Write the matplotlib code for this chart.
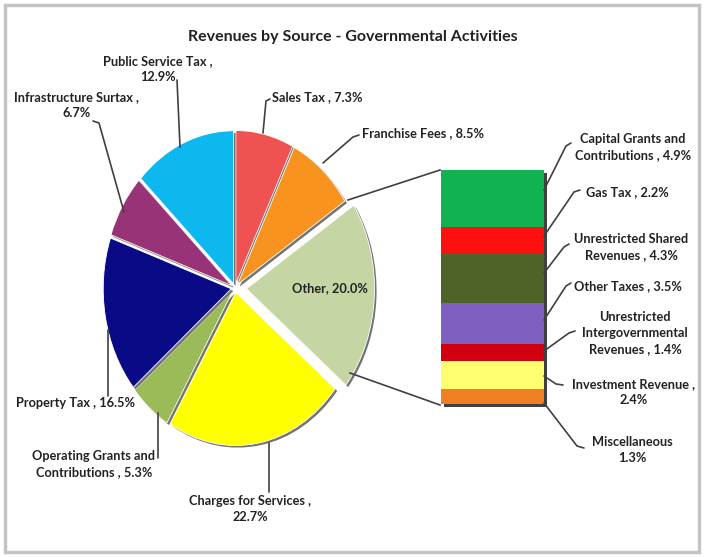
import numpy as np
import matplotlib.pyplot as plt
from matplotlib.patches import Rectangle
import matplotlib.patheffects as pe
import matplotlib.transforms as mtrans

# pie data (clockwise from 12 o'clock)
pie_names = ["Sales Tax", "Franchise Fees", "Other", "Charges for Services",
             "Operating Grants and Contributions", "Property Tax",
             "Infrastructure Surtax", "Public Service Tax"]
pie_values = [7.3, 8.5, 20.0, 22.7, 5.3, 16.5, 6.7, 12.9]
pie_colors = ["#F05252", "#F7931E", "#C5D6A4", "#FFFF00",
              "#9BBB59", "#0A0A86", "#993377", "#0DB8EE"]

# breakdown of "Other" (top to bottom of the bar)
bar_names = ["Capital Grants and Contributions", "Gas Tax",
             "Unrestricted Shared Revenues", "Other Taxes",
             "Unrestricted Intergovernmental Revenues", "Investment Revenue",
             "Miscellaneous"]
bar_values = [4.9, 2.2, 4.3, 3.5, 1.4, 2.4, 1.3]
bar_colors = ["#10B252", "#FF1010", "#4F6228", "#7F5FC0",
              "#D00010", "#FFFF70", "#EE7F22"]

W, H = 704, 557
FONT = ["Lato", "DejaVu Sans"]
TXT = "#222222"

fig = plt.figure(figsize=(W / 100, H / 100), dpi=100)
fig.patch.set_facecolor("white")

# pie, drawn a little squashed sideways like the source screenshot
cx, cy, rx, ry, L = 235, 288, 128, 153, 1.6
axp = fig.add_axes([(cx - L * rx) / W, (H - cy - L * ry) / H,
                    2 * L * rx / W, 2 * L * ry / H])
explode = [0.03] * len(pie_values)
explode[pie_names.index("Other")] = 0.09
wedges, _ = axp.pie(pie_values, colors=pie_colors, startangle=90,
                    counterclock=False, explode=explode,
                    wedgeprops=dict(linewidth=0.6, edgecolor="#ffffff"))
for w in wedges:
    w.set_path_effects([pe.SimplePatchShadow(offset=(1.5, -1.5), shadow_rgbFace="black", alpha=0.55),
                        pe.Normal()])
axp.set_aspect("auto")
axp.set_xlim(-L, L)
axp.set_ylim(-L, L)
axp.axis("off")

# stacked bar for the "Other" slice
axb = fig.add_axes([441 / W, (H - 404) / H, 103 / W, 234 / H])
total = sum(bar_values)
shadow = axb.bar(0, total, width=1.0, color="black", alpha=0.75, zorder=0)
shift = mtrans.ScaledTranslation(2.5 / 72, -2 / 72, fig.dpi_scale_trans)
for p in shadow:
    p.set_transform(axb.transData + shift)
    p.set_clip_on(False)
bottom = 0
for v, c in zip(bar_values[::-1], bar_colors[::-1]):
    axb.bar(0, v, bottom=bottom, width=1.0, color=c, edgecolor="none", zorder=2)
    bottom += v
axb.set_xlim(-0.5, 0.5)
axb.set_ylim(0, total)
axb.axis("off")

# overlay in pixel coords for labels and leader lines
ax = fig.add_axes([0, 0, 1, 1], zorder=5)
ax.set_xlim(0, W)
ax.set_ylim(H, 0)
ax.axis("off")

def label(text, x, y, pts, ha="center", size=9.2):
    ax.text(x, y, text, ha=ha, va="center", fontsize=size, fontweight="bold",
            color=TXT, family=FONT, linespacing=1.4)
    if pts:
        xs, ys = zip(*pts)
        ax.plot(xs, ys, color="#404040", lw=1.2, solid_capstyle="round")

def pct(v):
    return "%.1f%%" % v

v = dict(zip(pie_names, pie_values))
b = dict(zip(bar_names, bar_values))

ax.text(353, 37, "Revenues by Source - Governmental Activities", ha="center", va="center",
        fontsize=11.5, fontweight="bold", color=TXT, family=FONT)

label("Public Service Tax ,\n" + pct(v["Public Service Tax"]), 158, 69,
      [(177, 80), (180, 147)])
label("Infrastructure Surtax ,\n" + pct(v["Infrastructure Surtax"]), 77, 105,
      [(93, 121), (99, 123), (124, 212)])
label("Sales Tax , " + pct(v["Sales Tax"]), 272, 97,
      [(270, 99), (266, 101), (263, 133)], ha="left")
label("Franchise Fees , " + pct(v["Franchise Fees"]), 362, 133,
      [(359, 135), (353, 137), (323, 163)], ha="left")
label("Other, " + pct(v["Other"]), 330, 288, None)
label("Charges for Services ,\n" + pct(v["Charges for Services"]), 250, 509,
      [(269, 492), (269, 443)])
label("Operating Grants and\nContributions , " + pct(v["Operating Grants and Contributions"]),
      94, 464, [(158, 458), (158, 413)])
label("Property Tax , " + pct(v["Property Tax"]), 75, 403,
      [(108, 396), (108, 330)])

label("Capital Grants and\nContributions , " + pct(b["Capital Grants and Contributions"]),
      633, 147, [(571, 143), (566, 146), (544, 190)])
label("Gas Tax , " + pct(b["Gas Tax"]), 627, 192,
      [(580, 190), (574, 192), (544, 236)])
label("Unrestricted Shared\nRevenues , " + pct(b["Unrestricted Shared Revenues"]),
      631, 247, [(569, 244), (564, 247), (544, 273)])
label("Other Taxes , " + pct(b["Other Taxes"]), 628, 286,
      [(571, 283), (566, 286), (544, 320)])
label("Unrestricted\nIntergovernmental\nRevenues , " + pct(b["Unrestricted Intergovernmental Revenues"]),
      635, 333, [(575, 331), (569, 333), (544, 351)])
label("Investment Revenue ,\n" + pct(b["Investment Revenue"]), 634, 392,
      [(544, 376), (556, 384), (563, 385)])
label("Miscellaneous\n" + pct(b["Miscellaneous"]), 632, 450,
      [(584, 448), (577, 446), (544, 403)])

# connector lines from "Other" to the bar
ax.plot([348, 440], [200, 170], color="#404040", lw=1.2)
ax.plot([350, 440], [373, 405], color="#404040", lw=1.2)

# chart border
fig.add_artist(Rectangle((5 / W, 5 / H), (W - 10) / W, (H - 10) / H, transform=fig.transFigure,
                         fill=False, edgecolor="#c4c4c4", lw=2.5))

fig.savefig("out.png", dpi=100)
